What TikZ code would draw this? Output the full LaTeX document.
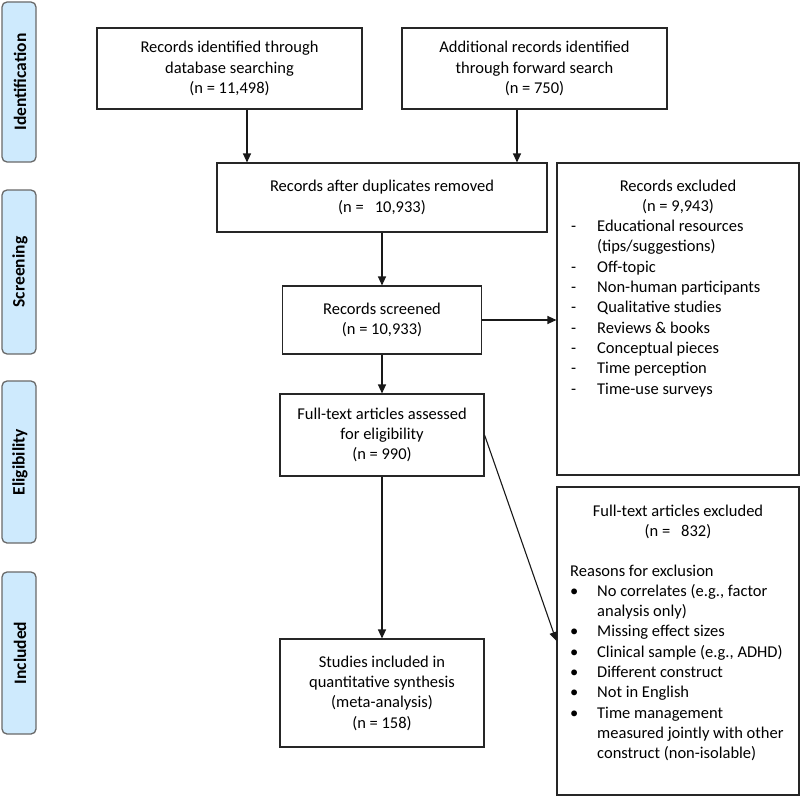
\documentclass[tikz,border=0pt]{standalone}
\usepackage{fontspec}
\setmainfont{Carlito}
\usetikzlibrary{arrows.meta}
\definecolor{phasefill}{RGB}{206,234,253}
\definecolor{phasedraw}{RGB}{105,105,105}
\begin{document}
\begin{tikzpicture}[x=1pt,y=-1pt,
  txt/.style={inner sep=0pt, font=\fontsize{16.5}{20.3}\selectfont},
  box/.style={txt, draw=black!85, line width=1.1pt, align=center},
  phase/.style={fill=phasefill, draw=phasedraw, line width=1.3pt, rounded corners=5pt},
  phaselab/.style={rotate=90, inner sep=0pt, font=\fontsize{17.5}{20}\selectfont\bfseries},
  arr/.style={-{Triangle[length=9pt,width=8pt]}, line width=1.1pt, draw=black!90}]
\useasboundingbox (0,0) rectangle (800,797);

% phases on the left
\foreach \lab/\ya/\yb in {Identification/2/162, Screening/190/354,
    Eligibility/381/543, Included/572/734}{
  \draw[phase] (2,\ya) rectangle (36,\yb);
  \node[phaselab] (ph-\lab) at (20,{(\ya+\yb)/2}) {\lab};
}

% main flow
\node[box, minimum width=265pt, minimum height=81pt] (dbase) at (229.5,68.5)
  {Records identified through\\database searching\\(n = 11,498)};
\node[box, minimum width=265pt, minimum height=81pt] (fwd) at (534.5,68.5)
  {Additional records identified\\through forward search\\(n = 750)};
\node[box, minimum width=330pt, minimum height=69pt] (dedup) at (382,197.5)
  {Records after duplicates removed\\(n =\hspace{11pt}10,933)};
\node[box, minimum width=199pt, minimum height=68pt] (screen) at (382,320)
  {Records screened\\(n = 10,933)};
\node[box, minimum width=204pt, minimum height=82pt] (elig) at (382,435)
  {Full-text articles assessed\\for eligibility\\(n = 990)};
\node[box, minimum width=204pt, minimum height=108pt] (incl) at (382,693)
  {Studies included in\\quantitative synthesis\\(meta-analysis)\\(n = 158)};

% exclusion boxes
\node[box, minimum width=242pt, minimum height=312pt] (excl) at (678,319) {};
\node[txt, anchor=base] (exclHead) at (678,191)
  {\begin{tabular}[t]{@{}c@{}}Records excluded\\(n = 9,943)\end{tabular}};
\node[txt, anchor=base west] (exclList) at (571,231.6)
  {\begin{tabular}[t]{@{}p{26pt}@{}l@{}}
  -&Educational resources\\
   &(tips/suggestions)\\
  -&Off-topic\\
  -&Non-human participants\\
  -&Qualitative studies\\
  -&Reviews \& books\\
  -&Conceptual pieces\\
  -&Time perception\\
  -&Time-use surveys
  \end{tabular}};

\node[box, minimum width=242pt, minimum height=308pt] (ftexcl) at (678,641) {};
\node[txt, anchor=base] (ftHead) at (678,516)
  {\begin{tabular}[t]{@{}c@{}}Full-text articles excluded\\(n =\hspace{11pt}832)\end{tabular}};
\node[txt, anchor=base west] (ftList) at (570,576)
  {\begin{tabular}[t]{@{}p{27pt}@{}l@{}}
  \multicolumn{2}{@{}l@{}}{Reasons for exclusion}\\
  \textbullet&No correlates (e.g., factor\\
   &analysis only)\\
  \textbullet&Missing effect sizes\\
  \textbullet&Clinical sample (e.g., ADHD)\\
  \textbullet&Different construct\\
  \textbullet&Not in English\\
  \textbullet&Time management\\
   &measured jointly with other\\
   &construct (non-isolable)
  \end{tabular}};

% connectors
\draw[arr] ([xshift=17.5pt]dbase.south) -- ([xshift=17.5pt]dbase.south |- dedup.north);
\draw[arr] ([xshift=-17.5pt]fwd.south) -- ([xshift=-17.5pt]fwd.south |- dedup.north);
\draw[arr] (dedup) -- (screen);
\draw[arr] (screen.east) -- (screen.east -| excl.west);
\draw[arr] (screen) -- (elig);
\draw[arr] (elig) -- (incl);
\draw[arr] (elig.east) -- (ftexcl.west);
\end{tikzpicture}
\end{document}
